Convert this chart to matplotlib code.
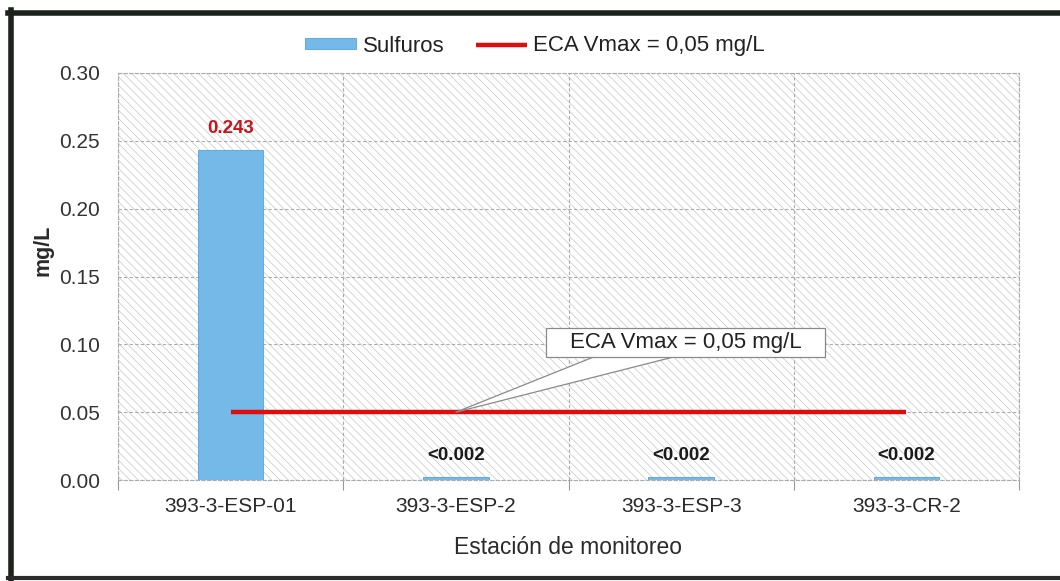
import matplotlib
matplotlib.use("Agg")
import matplotlib.pyplot as plt
from matplotlib.lines import Line2D
from matplotlib.path import Path
import numpy as np

plt.rcParams['font.family'] = ['Liberation Sans', 'DejaVu Sans']
plt.rcParams['hatch.color'] = '#c6c6c6'
plt.rcParams['hatch.linewidth'] = 0.5

# ---- data ----
stations = ["393-3-ESP-01", "393-3-ESP-2", "393-3-ESP-3", "393-3-CR-2"]
sulfuros = [0.243, 0.002, 0.002, 0.002]
value_labels = ["0.243", "<0.002", "<0.002", "<0.002"]
eca_limit = [0.05, 0.05, 0.05, 0.05]
yticks = [0.00, 0.05, 0.10, 0.15, 0.20, 0.25, 0.30]

W, H = 1060, 581
fig = plt.figure(figsize=(W / 100, H / 100), dpi=100)
fig.patch.set_facecolor('white')

ax = fig.add_axes([118 / W, 1 - 480 / H, (1019 - 118) / W, (480 - 73) / H])
ax.patch.set_facecolor('white')
ax.patch.set_hatch('\\\\\\\\')
ax.patch.set_edgecolor('#c6c6c6')
ax.patch.set_linewidth(0)

x = np.arange(len(stations))
bar_color = '#74b9e7'
bars = ax.bar(x, sulfuros, width=0.29, color=bar_color, edgecolor='#4aa6de',
              linewidth=0.6, zorder=3, label='Sulfuros')
line, = ax.plot(x, eca_limit, color='#e00d0d', lw=3.2, zorder=4,
                solid_capstyle='butt', label='ECA Vmax = 0,05 mg/L')

for xi, v, lab in zip(x, sulfuros, value_labels):
    col = '#c8151b' if not lab.startswith('<') else '#1a1a1a'
    ax.annotate(lab, (xi, v), xytext=(0, 16), textcoords='offset points',
                ha='center', va='center', fontsize=13.5, fontweight='bold',
                color=col, zorder=5)

ax.set_xlim(-0.5, len(stations) - 0.5)
ax.set_ylim(0, 0.30)
ax.set_yticks(yticks)
ax.set_yticklabels([f"{t:.2f}" for t in yticks], fontsize=15, color='#333333')
ax.set_xticks(np.arange(len(stations) + 1) - 0.5)
ax.set_xticklabels([])
ax.set_xticks(x, minor=True)
ax.set_xticklabels(stations, minor=True, fontsize=15, color='#2a2a2a')
ax.tick_params(axis='x', which='major', length=7, color='#999999', width=0.8)
ax.tick_params(axis='x', which='minor', length=0, pad=12)
ax.tick_params(axis='y', length=0, pad=13)

ax.grid(True, which='major', color='#ababab', linestyle=(0, (3, 2)), lw=0.8, zorder=1)
ax.set_axisbelow(True)
for s in ax.spines.values():
    s.set_color('#ababab')
    s.set_linestyle((0, (3, 2)))
    s.set_linewidth(0.8)

ax.set_ylabel('mg/L', fontsize=15.5, fontweight='bold', color='#2a2a2a')
ax.yaxis.set_label_coords(-0.072, 0.565)
ax.set_xlabel('Estación de monitoreo', fontsize=16.5, color='#2a2a2a', labelpad=15)


def callout_box(x0, y0, width, height, mutation_size):
    px, py = 24, 4
    verts = [(x0 - px, y0 - py), (x0 + width + px, y0 - py),
             (x0 + width + px, y0 + height + py), (x0 - px, y0 + height + py),
             (x0 - px, y0 - py)]
    return Path(verts, closed=True)


ax.annotate('ECA Vmax = 0,05 mg/L', xy=(1.0, 0.05), xytext=(2.02, 0.1015),
            textcoords='data', ha='center', va='center', fontsize=16,
            color='#222222', zorder=6,
            bbox=dict(boxstyle=callout_box, fc='white', ec='#8a8a8a', lw=0.9),
            arrowprops=dict(arrowstyle='wedge,tail_width=1.35,shrink_factor=0.5',
                            fc='white', ec='#8a8a8a', lw=0.9, patchA=None,
                            relpos=(0.435, 0.5), shrinkA=0, shrinkB=0))

# legend
fig.legend(handles=[bars, line], loc='center', bbox_to_anchor=(535 / W, 1 - 46 / H),
           ncol=2, frameon=False, fontsize=16, handlelength=2.3,
           handleheight=0.4, handletextpad=0.3, columnspacing=1.4,
           labelcolor='#222222')

# outer frame (top, left, bottom)
fc = '#1c211c'
fig.add_artist(Line2D([8 / W, 1.0], [1 - 13 / H, 1 - 13 / H], transform=fig.transFigure, color=fc, lw=4))
fig.add_artist(Line2D([11 / W, 11 / W], [1 - 10 / H, 1 - 580 / H], transform=fig.transFigure, color=fc, lw=4))
fig.add_artist(Line2D([8 / W, 1.0], [1 - 578 / H, 1 - 578 / H], transform=fig.transFigure, color='#2a2a2a', lw=3))

fig.savefig('out.png', dpi=100, facecolor='white')
